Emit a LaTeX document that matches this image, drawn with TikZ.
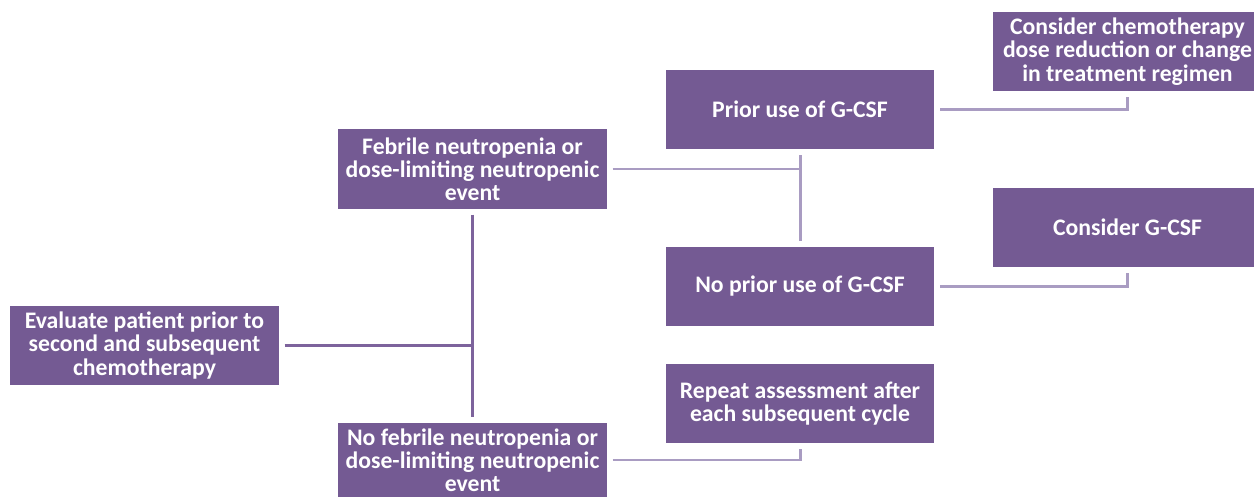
\documentclass[tikz,border=0pt]{standalone}
\usepackage{fontspec}
\setmainfont{Carlito}
\usetikzlibrary{positioning}
\definecolor{boxpurple}{HTML}{745A93}
\definecolor{darkline}{HTML}{7D639C}
\definecolor{lightline}{HTML}{A99CC2}
\tikzset{box/.style = {fill=boxpurple, text=white, font=\bfseries\fontsize{13.5}{13.2}\selectfont, align=center, inner sep=0, minimum width=5.38cm, minimum height=1.6cm}}
\tikzset{dline/.style = {darkline, line width=1.7pt}}
\tikzset{lline/.style = {lightline, line width=1.7pt}}

\begin{document}
\begin{tikzpicture}[x=0.02cm,y=-0.02cm]
            \useasboundingbox (0,0) rectangle (1254,497);
            \node [box] (eval) at (144.5,345.5) {Evaluate patient prior to\\second and subsequent\\chemotherapy};
            \node [box] (feb) at (472.5,169) {Febrile neutropenia or\\dose-limiting neutropenic\\event};
            \node [box, minimum height=1.48cm] (nofeb) at (472.5,460) {No febrile neutropenia or\\dose-limiting neutropenic\\event};
            \node [box] (prior) at (800,109.5) {Prior use of G-CSF};
            \node [box] (noprior) at (800,286.5) {No prior use of G-CSF};
            \node [box] (repeat) at (800,403.5) {Repeat assessment after\\each subsequent cycle};
            \node [box] (chemo) at (1127.5,51.5) {Consider chemotherapy\\dose reduction or change\\in treatment regimen};
            \node [box] (gcsf) at (1127.5,227.5) {Consider G-CSF};
            \draw [dline] ([xshift=3pt]eval.east) -- (eval.east -| feb.south);
            \draw [dline] ([yshift=-3pt]feb.south) -- ([yshift=3pt]nofeb.north);
            \draw [lline] ([xshift=3pt]feb.east) -- (feb.east -| prior.south);
            \draw [lline] ([yshift=-3pt]prior.south) -- ([yshift=3pt]noprior.north);
            \draw [lline] ([xshift=3pt]prior.east) -| ([yshift=-3pt]chemo.south);
            \draw [lline] ([xshift=3pt]noprior.east) -| ([yshift=-3pt]gcsf.south);
            \draw [lline] ([xshift=3pt]nofeb.east) -| ([yshift=-3pt]repeat.south);
        \end{tikzpicture}
\end{document}
